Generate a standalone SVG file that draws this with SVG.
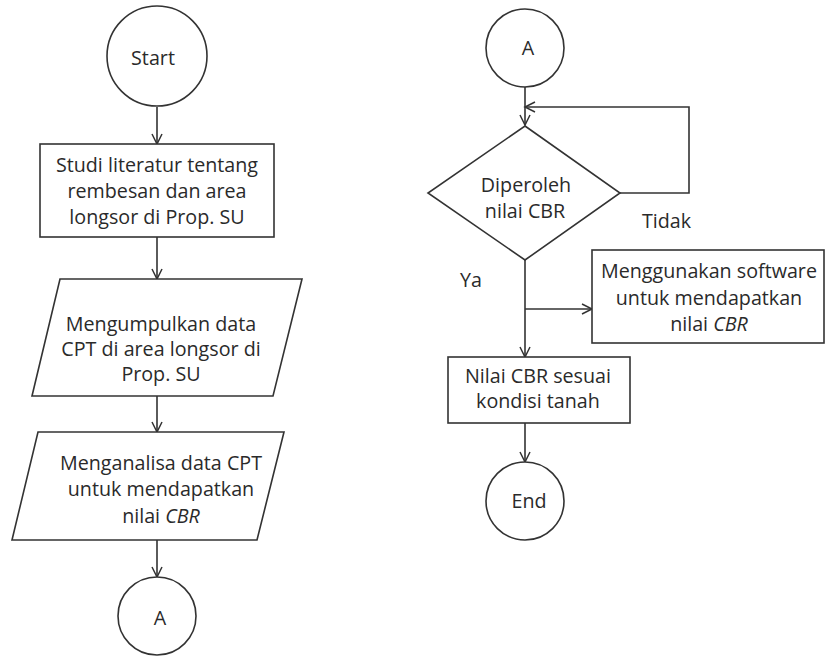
<svg xmlns="http://www.w3.org/2000/svg" width="825" height="656" viewBox="0 0 825 656">
<defs>
<marker id="arr" markerUnits="userSpaceOnUse" markerWidth="14" markerHeight="14" refX="11" refY="6" orient="auto">
<path d="M1,1 L11,6 L1,11" fill="none" stroke="#333" stroke-width="1.5"/>
</marker>
<style>
.s{fill:#fff;stroke:#333;stroke-width:1.6}
.t{font-family:"Open Sans","Liberation Sans",sans-serif;font-size:19.7px;fill:#2a2a2a;text-anchor:middle}
.l{font-family:"Open Sans","Liberation Sans",sans-serif;font-size:19.7px;fill:#2a2a2a}
.c{fill:none;stroke:#333;stroke-width:1.6}
</style>
</defs>
<rect width="825" height="656" fill="#fff"/>
<g id="connectors">
<path class="c" d="M157,107 V144" marker-end="url(#arr)"/>
<path class="c" d="M157,237 V279" marker-end="url(#arr)"/>
<path class="c" d="M157,396 V432" marker-end="url(#arr)"/>
<path class="c" d="M157,540 V577" marker-end="url(#arr)"/>
<path class="c" d="M525,86 V125" marker-end="url(#arr)"/>
<path class="c" d="M620,193 H689 V107 H525" marker-end="url(#arr)"/>
<path class="c" d="M525,260 V357" marker-end="url(#arr)"/>
<path class="c" d="M525,309 H592" marker-end="url(#arr)"/>
<path class="c" d="M525,423 V462" marker-end="url(#arr)"/>
</g>
<g id="start">
<circle class="s" cx="157" cy="56" r="50"/>
<text class="t" x="153" y="65">Start</text>
</g>
<g id="studi">
<rect class="s" x="40" y="144" width="234" height="93"/>
<text class="t" x="157" y="172">Studi literatur tentang</text>
<text class="t" x="157" y="198">rembesan dan area</text>
<text class="t" x="157" y="224">longsor di Prop. SU</text>
</g>
<g id="mengumpulkan">
<polygon class="s" points="60,279 302,279 273,396 32,396"/>
<text class="t" x="161" y="331">Mengumpulkan data</text>
<text class="t" x="161" y="356">CPT di area longsor di</text>
<text class="t" x="161" y="381">Prop. SU</text>
</g>
<g id="menganalisa">
<polygon class="s" points="38,432 284,432 257,540 12,540"/>
<text class="t" x="161" y="470">Menganalisa data CPT</text>
<text class="t" x="161" y="496">untuk mendapatkan</text>
<text class="t" x="161" y="523">nilai <tspan font-style="italic">CBR</tspan></text>
</g>
<g id="a1">
<circle class="s" cx="157" cy="616" r="39"/>
<text class="t" x="160" y="625">A</text>
</g>
<g id="a2">
<circle class="s" cx="525" cy="48" r="39"/>
<text class="t" x="528" y="55">A</text>
</g>
<g id="diamond">
<polygon class="s" points="525,126 620,193 525,260 428,193"/>
<text class="t" x="526" y="192">Diperoleh</text>
<text class="t" x="525" y="218">nilai CBR</text>
</g>
<text class="l" x="642" y="228">Tidak</text>
<text class="l" x="460" y="287">Ya</text>
<g id="software">
<rect class="s" x="592" y="250" width="232" height="93"/>
<text class="t" x="709" y="278">Menggunakan software</text>
<text class="t" x="709" y="305">untuk mendapatkan</text>
<text class="t" x="709" y="331">nilai <tspan font-style="italic">CBR</tspan></text>
</g>
<g id="nilai">
<rect class="s" x="448" y="357" width="182" height="66"/>
<text class="t" x="538" y="383">Nilai CBR sesuai</text>
<text class="t" x="538" y="408">kondisi tanah</text>
</g>
<g id="end">
<circle class="s" cx="525" cy="501" r="39"/>
<text class="t" x="529" y="508">End</text>
</g>
</svg>
